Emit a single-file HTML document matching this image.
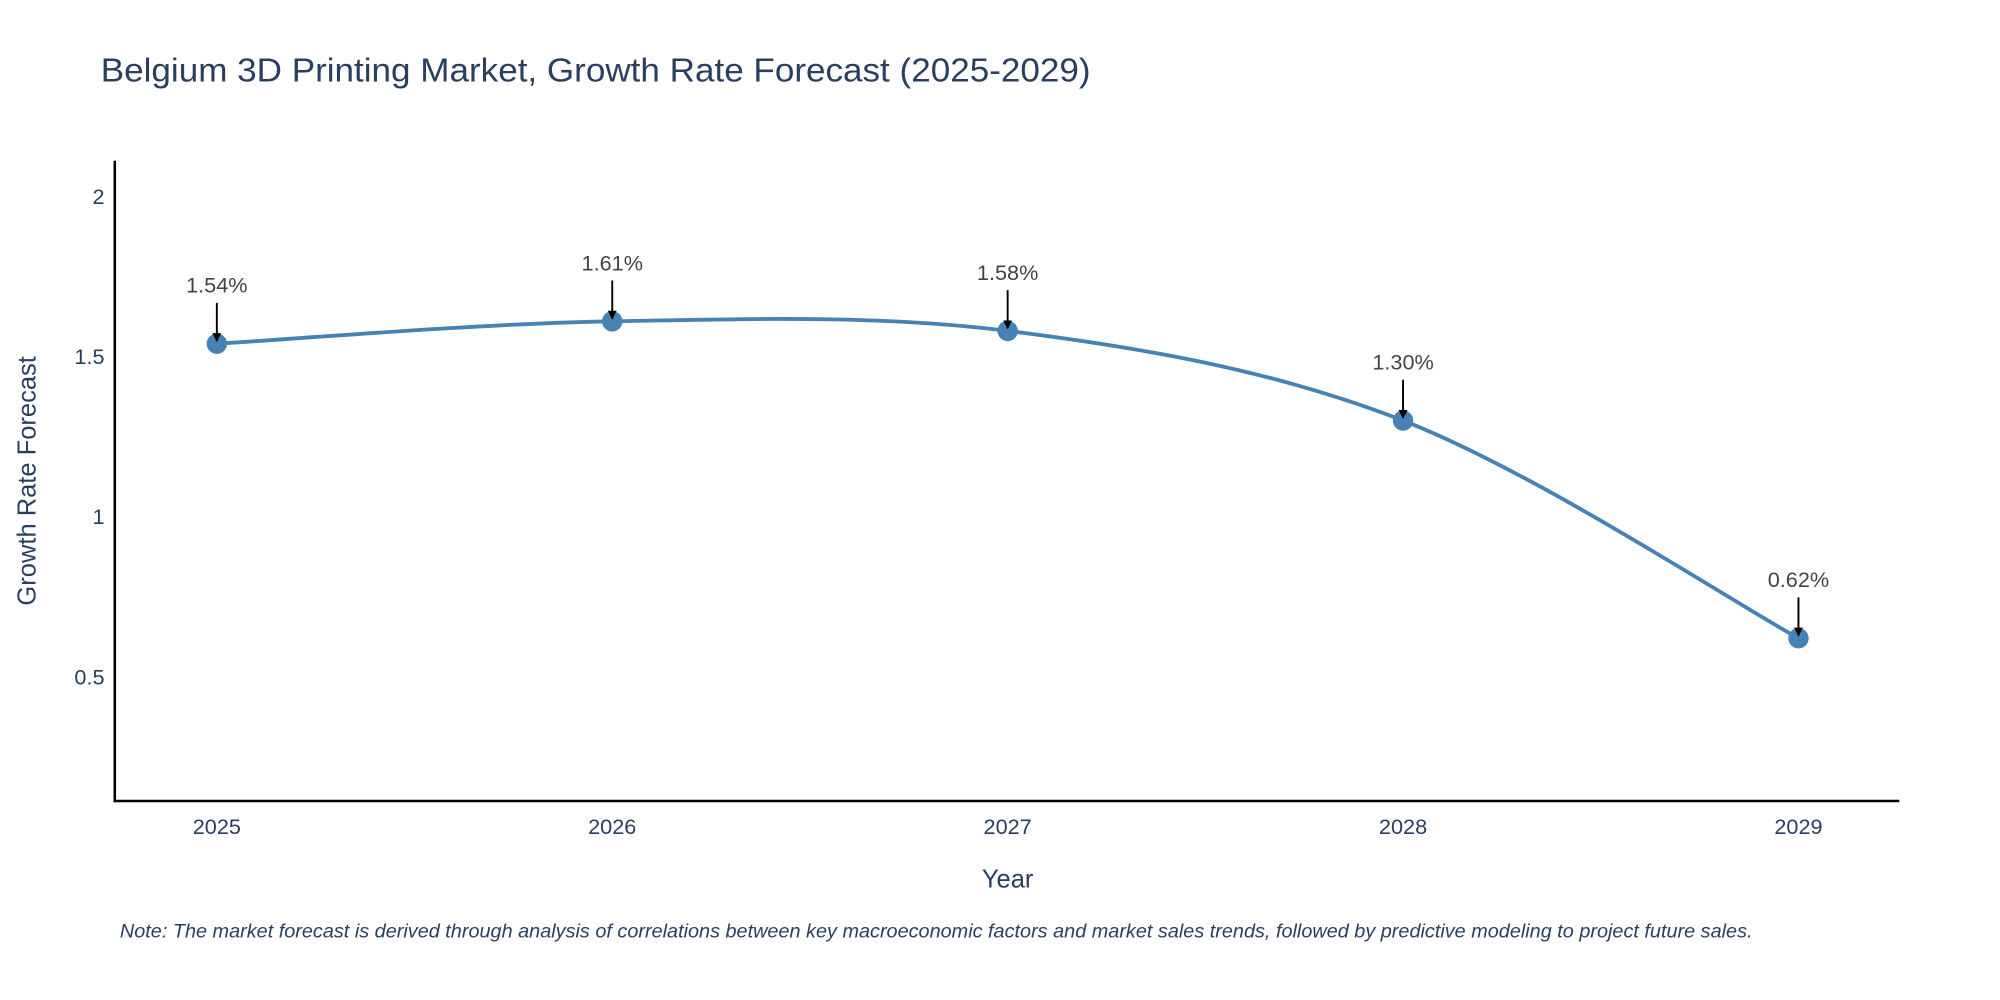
<!DOCTYPE html>
<html><head><meta charset="utf-8"><style>
html,body{margin:0;padding:0;background:#fff;}
svg{display:block;font-family:"Liberation Sans",sans-serif;}
</style></head><body>
<svg id="chart" width="2000" height="1000" viewBox="0 0 1568 784" xmlns="http://www.w3.org/2000/svg">
<rect width="1568" height="784" fill="#fff"/>
<text x="79" y="64" font-size="26" fill="#2a3f5f" textLength="776" lengthAdjust="spacingAndGlyphs">Belgium 3D Printing Market, Growth Rate Forecast (2025-2029)</text>
<g id="yticks"></g><g id="xticks"></g>
<line x1="90" y1="126" x2="90" y2="629" stroke="#000" stroke-width="2"/>
<line x1="89" y1="628" x2="1489" y2="628" stroke="#000" stroke-width="2"/>
<g id="series"></g><g id="annos"></g>
<text x="790" y="696" font-size="20" fill="#2a3f5f" text-anchor="middle">Year</text>
<text transform="translate(28,377) rotate(-90)" font-size="20" fill="#2a3f5f" text-anchor="middle">Growth Rate Forecast</text>
<text x="94" y="735" font-size="15" font-style="italic" fill="#2a3f5f" textLength="1280" lengthAdjust="spacingAndGlyphs">Note: The market forecast is derived through analysis of correlations between key macroeconomic factors and market sales trends, followed by predictive modeling to project future sales.</text>
<defs><marker id="ah" viewBox="0 0 10 10" refX="9" refY="5" markerWidth="7" markerHeight="7" markerUnits="userSpaceOnUse" orient="auto"><path d="M0,0L10,5L0,10z" fill="#000"/></marker></defs>
</svg>
<script>
const years=[2025,2026,2027,2028,2029];
const values=[1.54,1.61,1.58,1.30,0.62];
const labels=["1.54%","1.61%","1.58%","1.30%","0.62%"];
const yTicks=[0.5,1,1.5,2];
const NS="http://www.w3.org/2000/svg";
function xs(v){return 170+(v-2025)*310;}
function ys(v){return 405-(v-1)*251;}
function mk(t,a,p){const e=document.createElementNS(NS,t);for(const k in a)e.setAttribute(k,a[k]);p.appendChild(e);return e;}
const yt=document.getElementById('yticks');
yTicks.forEach(v=>{const t=mk('text',{x:82,y:ys(v)+6,'font-size':17,fill:'#2a3f5f','text-anchor':'end'},yt);


t.textContent=String(v);});
const xt=document.getElementById('xticks');
years.forEach(v=>{const t=mk('text',{x:xs(v),y:654,'font-size':17,fill:'#2a3f5f','text-anchor':'middle'},xt);


t.textContent=String(v);});
const pts=years.map((y,i)=>[xs(y),ys(values[i])]);
let d='M'+pts[0][0]+','+pts[0][1];
for(let i=0;i<pts.length-1;i++){const p0=pts[Math.max(0,i-1)],p1=pts[i],p2=pts[i+1],p3=pts[Math.min(pts.length-1,i+2)];
const k=1/6;d+=' C'+(p1[0]+(p2[0]-p0[0])*k)+','+(p1[1]+(p2[1]-p0[1])*k)+' '+(p2[0]-(p3[0]-p1[0])*k)+','+(p2[1]-(p3[1]-p1[1])*k)+' '+p2[0]+','+p2[1];}
const s=document.getElementById('series');
const path=mk('path',{d:d,fill:'none',stroke:'#4682b4','stroke-width':3},s);


pts.forEach(p=>{const c=mk('circle',{cx:p[0],cy:p[1],r:8,fill:'#4682b4'},s);

});
const an=document.getElementById('annos');
pts.forEach((p,i)=>{const l=mk('line',{x1:p[0],y1:p[1]-32,x2:p[0],y2:p[1]-2,stroke:'#000','stroke-width':1.5,'marker-end':'url(#ah)'},an);


const t=mk('text',{x:p[0],y:p[1]-40,'font-size':17,fill:'#444','text-anchor':'middle'},an);


t.textContent=labels[i];});
</script>
</body></html>
